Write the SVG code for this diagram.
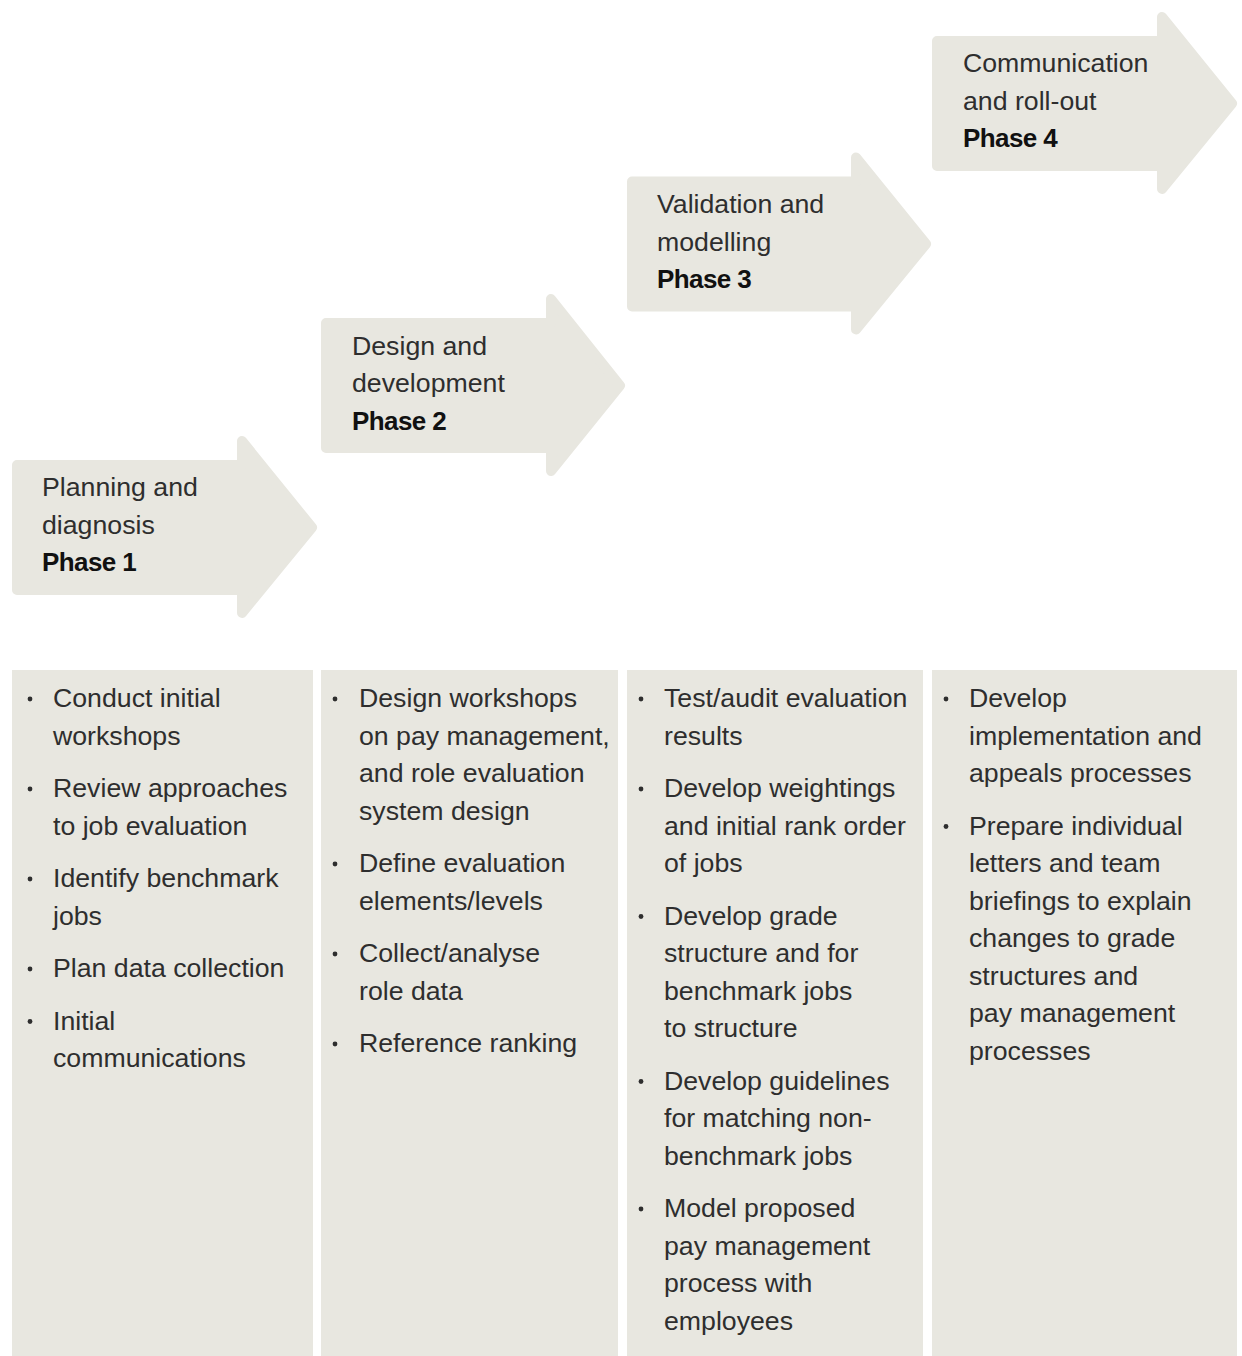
<svg xmlns="http://www.w3.org/2000/svg" width="1242" height="1356" viewBox="0 0 1242 1356">
<style>
.arrow{fill:#e8e7e0;stroke:#e8e7e0;stroke-width:10;stroke-linejoin:round}
.panel{fill:#e8e7e0}
text{font-family:"Liberation Sans",Arial,sans-serif;font-size:26.7px;fill:#2e2e2e}
.b{font-weight:bold;font-size:26px;letter-spacing:-0.6px;fill:#111}
.dot{fill:#2e2e2e}
</style>
<rect width="1242" height="1356" fill="#ffffff"/>
<g id="phase1">
<path class="arrow" d="M17,465 H242 V441 L312,527.5 L242,613 V590 H17 Z"/>
<text x="42" y="496">Planning and</text>
<text x="42" y="533.5">diagnosis</text>
<text class="b" x="42" y="571">Phase 1</text>
</g>
<g id="phase2">
<path class="arrow" d="M326,323 H551 V299 L620,385.5 L551,471 V448 H326 Z"/>
<text x="352" y="354.5">Design and</text>
<text x="352" y="392">development</text>
<text class="b" x="352" y="429.5">Phase 2</text>
</g>
<g id="phase3">
<path class="arrow" d="M632,181.5 H856 V157.5 L926,244 L856,329.5 V306.5 H632 Z"/>
<text x="657" y="213">Validation and</text>
<text x="657" y="250.5">modelling</text>
<text class="b" x="657" y="288">Phase 3</text>
</g>
<g id="phase4">
<path class="arrow" d="M937,41 H1162 V17 L1232,103.5 L1162,189 V166 H937 Z"/>
<text x="963" y="72">Communication</text>
<text x="963" y="109.5">and roll-out</text>
<text class="b" x="963" y="147">Phase 4</text>
</g>
<g id="col1">
<rect class="panel" x="12" y="670" width="301" height="686"/>
<circle class="dot" cx="30" cy="699" r="2.4"/>
<circle class="dot" cx="30" cy="789" r="2.4"/>
<circle class="dot" cx="30" cy="879" r="2.4"/>
<circle class="dot" cx="30" cy="969" r="2.4"/>
<circle class="dot" cx="30" cy="1021.5" r="2.4"/>
<text x="53" y="707">Conduct initial</text>
<text x="53" y="744.5">workshops</text>
<text x="53" y="797">Review approaches</text>
<text x="53" y="834.5">to job evaluation</text>
<text x="53" y="887">Identify benchmark</text>
<text x="53" y="924.5">jobs</text>
<text x="53" y="977">Plan data collection</text>
<text x="53" y="1029.5">Initial</text>
<text x="53" y="1067">communications</text>
</g>
<g id="col2">
<rect class="panel" x="321" y="670" width="297" height="686"/>
<circle class="dot" cx="335" cy="699" r="2.4"/>
<circle class="dot" cx="335" cy="864" r="2.4"/>
<circle class="dot" cx="335" cy="954" r="2.4"/>
<circle class="dot" cx="335" cy="1044" r="2.4"/>
<text x="359" y="707">Design workshops</text>
<text x="359" y="744.5">on pay management,</text>
<text x="359" y="782">and role evaluation</text>
<text x="359" y="819.5">system design</text>
<text x="359" y="872">Define evaluation</text>
<text x="359" y="909.5">elements/levels</text>
<text x="359" y="962">Collect/analyse</text>
<text x="359" y="999.5">role data</text>
<text x="359" y="1052">Reference ranking</text>
</g>
<g id="col3">
<rect class="panel" x="627" y="670" width="296" height="686"/>
<circle class="dot" cx="641" cy="699" r="2.4"/>
<circle class="dot" cx="641" cy="789" r="2.4"/>
<circle class="dot" cx="641" cy="916.5" r="2.4"/>
<circle class="dot" cx="641" cy="1081.5" r="2.4"/>
<circle class="dot" cx="641" cy="1209" r="2.4"/>
<text x="664" y="707">Test/audit evaluation</text>
<text x="664" y="744.5">results</text>
<text x="664" y="797">Develop weightings</text>
<text x="664" y="834.5">and initial rank order</text>
<text x="664" y="872">of jobs</text>
<text x="664" y="924.5">Develop grade</text>
<text x="664" y="962">structure and for</text>
<text x="664" y="999.5">benchmark jobs</text>
<text x="664" y="1037">to structure</text>
<text x="664" y="1089.5">Develop guidelines</text>
<text x="664" y="1127">for matching non-</text>
<text x="664" y="1164.5">benchmark jobs</text>
<text x="664" y="1217">Model proposed</text>
<text x="664" y="1254.5">pay management</text>
<text x="664" y="1292">process with</text>
<text x="664" y="1329.5">employees</text>
</g>
<g id="col4">
<rect class="panel" x="932" y="670" width="305" height="686"/>
<circle class="dot" cx="946" cy="699" r="2.4"/>
<circle class="dot" cx="946" cy="826.5" r="2.4"/>
<text x="969" y="707">Develop</text>
<text x="969" y="744.5">implementation and</text>
<text x="969" y="782">appeals processes</text>
<text x="969" y="834.5">Prepare individual</text>
<text x="969" y="872">letters and team</text>
<text x="969" y="909.5">briefings to explain</text>
<text x="969" y="947">changes to grade</text>
<text x="969" y="984.5">structures and</text>
<text x="969" y="1022">pay management</text>
<text x="969" y="1059.5">processes</text>
</g>
</svg>
